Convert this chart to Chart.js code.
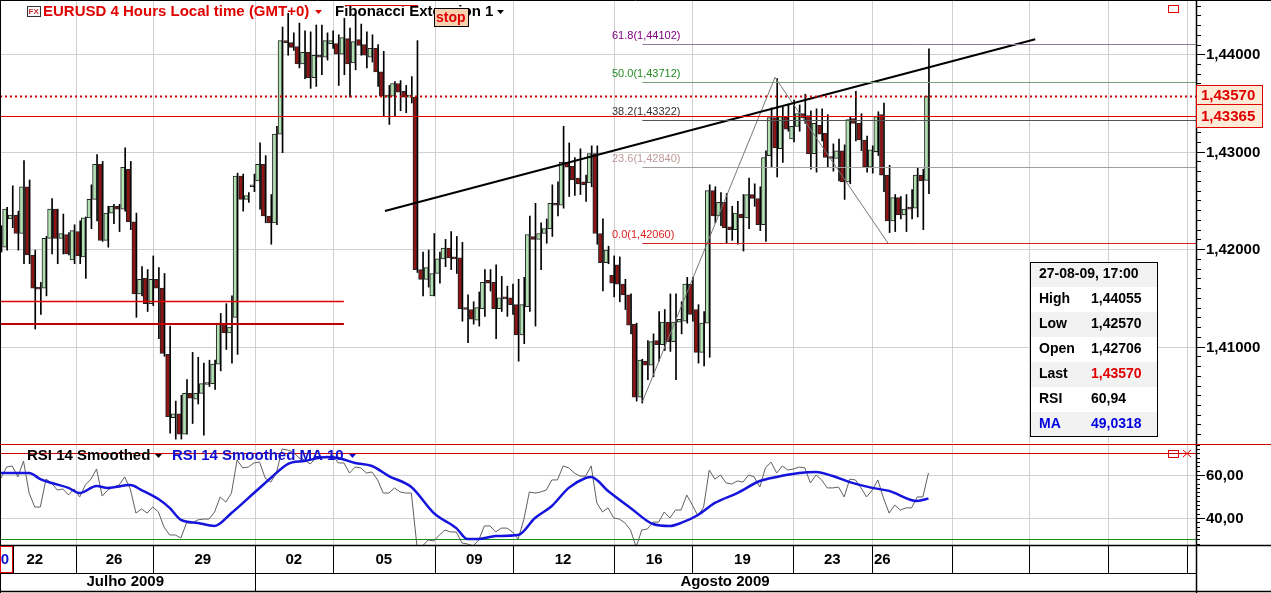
<!DOCTYPE html>
<html><head><meta charset="utf-8">
<script src="https://cdn.jsdelivr.net/npm/chart.js@4/dist/chart.umd.min.js"></script>
<style>
html,body{margin:0;padding:0;background:#fff;overflow:hidden}
#c1{position:absolute;left:0;top:0}
#c2{position:absolute;left:0;top:445px}
</style></head><body>
<canvas id="c1" width="1271" height="445"></canvas>
<canvas id="c2" width="1271" height="148"></canvas>
<script>
// ---------- DATA ----------
const opens=[1.4222,1.4202,1.4231,1.4235,1.4216,1.4264,1.4194,1.4161,1.4160,1.4211,1.4241,1.4211,1.4215,1.4189,1.4218,1.4192,1.4232,1.4251,1.4287,1.4209,1.4237,1.4244,1.4241,1.4282,1.4228,1.4154,1.4170,1.4144,1.4169,1.4160,1.4092,1.4027,1.4031,1.4010,1.4052,1.4046,1.4052,1.4061,1.4062,1.4082,1.4124,1.4114,1.4130,1.4275,1.4251,1.4264,1.4270,1.4287,1.4234,1.4227,1.4318,1.4414,1.4412,1.4408,1.4390,1.4402,1.4376,1.4399,1.4397,1.4411,1.4411,1.4400,1.4416,1.4391,1.4415,1.4410,1.4397,1.4406,1.4382,1.4356,1.4357,1.4370,1.4362,1.4356,1.4356,1.4179,1.4169,1.4152,1.4175,1.4190,1.4201,1.4192,1.4191,1.4140,1.4138,1.4127,1.4139,1.4168,1.4166,1.4139,1.4151,1.4150,1.4143,1.4112,1.4141,1.4213,1.4210,1.4216,1.4221,1.4247,1.4245,1.4289,1.4285,1.4273,1.4269,1.4268,1.4298,1.4216,1.4186,1.4173,1.4184,1.4164,1.4153,1.4123,1.4048,1.4085,1.4081,1.4106,1.4102,1.4125,1.4105,1.4125,1.4126,1.4164,1.4138,1.4094,1.4124,1.4260,1.4234,1.4248,1.4223,1.4220,1.4236,1.4232,1.4256,1.4252,1.4225,1.4296,1.4335,1.4303,1.4336,1.4313,1.4326,1.4339,1.4337,1.4298,1.4327,1.4319,1.4295,1.4293,1.4301,1.4269,1.4334,1.4329,1.4312,1.4284,1.4300,1.4338,1.4276,1.4229,1.4253,1.4235,1.4243,1.4242,1.4276,1.42706];
const highs=[1.4224,1.4243,1.4265,1.4239,1.4291,1.4271,1.4199,1.4166,1.4213,1.4252,1.4241,1.4236,1.4217,1.4225,1.4229,1.4233,1.4266,1.4297,1.4290,1.4244,1.4246,1.4246,1.4304,1.4290,1.4237,1.4182,1.4179,1.4193,1.4181,1.4175,1.4121,1.4044,1.4050,1.4066,1.4094,1.4089,1.4083,1.4086,1.4086,1.4134,1.4144,1.4152,1.4278,1.4277,1.4258,1.4277,1.4309,1.4296,1.4256,1.4326,1.4428,1.4442,1.4422,1.4432,1.4424,1.4423,1.4430,1.4430,1.4422,1.4424,1.4420,1.4437,1.4427,1.4443,1.4431,1.4423,1.4420,1.4410,1.4403,1.4368,1.4372,1.4373,1.4368,1.4377,1.4414,1.4197,1.4199,1.4216,1.4197,1.4210,1.4218,1.4213,1.4207,1.4153,1.4146,1.4156,1.4179,1.4179,1.4184,1.4172,1.4162,1.4164,1.4169,1.4171,1.4234,1.4247,1.4227,1.4231,1.4266,1.4269,1.4326,1.4309,1.4294,1.4303,1.4276,1.4306,1.4306,1.4231,1.4203,1.4193,1.4192,1.4169,1.4154,1.4124,1.4087,1.4106,1.4113,1.4136,1.4138,1.4154,1.4154,1.4146,1.4171,1.4171,1.4143,1.4136,1.4266,1.4264,1.4258,1.4257,1.4244,1.4249,1.4256,1.4273,1.4267,1.4264,1.4301,1.4345,1.4375,1.4346,1.4348,1.4353,1.4348,1.4359,1.4342,1.4344,1.4344,1.4338,1.4308,1.4313,1.4307,1.4336,1.4362,1.4339,1.4316,1.4306,1.4341,1.4350,1.4286,1.4256,1.4254,1.4256,1.4261,1.4284,1.4282,1.44055];
const lows=[1.4197,1.4199,1.4222,1.4199,1.4185,1.4185,1.4118,1.4133,1.4152,1.4195,1.4185,1.4195,1.4194,1.4185,1.4185,1.4170,1.4221,1.4229,1.4208,1.4202,1.4226,1.4218,1.4239,1.4220,1.4130,1.4152,1.4136,1.4142,1.4108,1.4090,1.4011,1.4005,1.4005,1.4010,1.4021,1.4041,1.4009,1.4059,1.4056,1.4075,1.4097,1.4083,1.4092,1.4239,1.4248,1.4259,1.4241,1.4227,1.4205,1.4225,1.4299,1.4399,1.4404,1.4386,1.4375,1.4365,1.4367,1.4379,1.4394,1.4406,1.4368,1.4379,1.4356,1.4384,1.4399,1.4386,1.4392,1.4367,1.4337,1.4328,1.4337,1.4342,1.4340,1.4350,1.4176,1.4152,1.4161,1.4152,1.4165,1.4182,1.4179,1.4175,1.4126,1.4104,1.4123,1.4121,1.4131,1.4157,1.4108,1.4136,1.4131,1.4133,1.4085,1.4103,1.4136,1.4121,1.4179,1.4206,1.4213,1.4234,1.4242,1.4254,1.4255,1.4256,1.4249,1.4264,1.4205,1.4157,1.4185,1.4151,1.4146,1.4138,1.4113,1.4044,1.4042,1.4066,1.4069,1.4085,1.4096,1.4095,1.4066,1.4113,1.4124,1.4126,1.4083,1.4080,1.4089,1.4227,1.4224,1.4206,1.4209,1.4205,1.4198,1.4221,1.4244,1.4219,1.4208,1.4284,1.4274,1.4289,1.4321,1.4310,1.4321,1.4329,1.4282,1.4279,1.4311,1.4284,1.4280,1.4270,1.4251,1.4267,1.4311,1.4301,1.4279,1.4278,1.4296,1.4259,1.4217,1.4218,1.4231,1.4218,1.4231,1.4233,1.4220,1.4257];
const closes=[1.4201,1.4241,1.4235,1.4216,1.4264,1.4194,1.4160,1.4159,1.4211,1.4241,1.4211,1.4216,1.4195,1.4219,1.4193,1.4232,1.4251,1.4287,1.4209,1.4237,1.4244,1.4241,1.4284,1.4228,1.4154,1.4169,1.4144,1.4169,1.4160,1.4093,1.4028,1.4031,1.4010,1.4052,1.4047,1.4052,1.4062,1.4063,1.4082,1.4124,1.4114,1.4120,1.4275,1.4251,1.4255,1.4266,1.4287,1.4234,1.4227,1.4318,1.4414,1.4412,1.4407,1.4390,1.4402,1.4376,1.4399,1.4397,1.4414,1.4414,1.4400,1.4417,1.4390,1.4413,1.4409,1.4399,1.4406,1.4382,1.4357,1.4358,1.4370,1.4361,1.4356,1.4357,1.4179,1.4169,1.4181,1.4175,1.4190,1.4201,1.4191,1.4190,1.4139,1.4138,1.4128,1.4140,1.4166,1.4165,1.4139,1.4150,1.4149,1.4143,1.4112,1.4143,1.4215,1.4210,1.4216,1.4221,1.4247,1.4245,1.4289,1.4284,1.4271,1.4267,1.4266,1.4298,1.4216,1.4186,1.4199,1.4165,1.4164,1.4153,1.4122,1.4048,1.4086,1.4081,1.4105,1.4102,1.4125,1.4105,1.4125,1.4128,1.4164,1.4133,1.4094,1.4124,1.4260,1.4234,1.4248,1.4222,1.4220,1.4237,1.4232,1.4256,1.4252,1.4225,1.4294,1.4335,1.4304,1.4336,1.4323,1.4326,1.4339,1.4335,1.4298,1.4329,1.4318,1.4294,1.4293,1.4301,1.4269,1.4333,1.4329,1.4312,1.4284,1.4302,1.4336,1.4276,1.4229,1.4253,1.4235,1.4241,1.4241,1.4276,1.4270,1.4357];
const rsi=[58.6,63.7,64.2,59.1,66.5,51.6,45.1,45.1,58.1,56.3,53.0,53.5,50.7,53.5,49.8,55.3,58.1,62.8,50.2,53.0,54.4,55.3,59.1,53.5,42.3,44.2,42.3,45.1,42.8,35.8,32.1,32.1,30.7,37.7,37.7,39.1,39.5,39.5,42.8,49.8,47.4,51.6,67.0,63.3,63.7,65.6,66.0,58.6,56.7,60.9,72.1,71.6,70.7,67.9,67.0,65.1,67.9,68.4,67.9,69.3,65.6,65.6,60.9,63.7,63.3,60.9,61.4,57.7,51.6,51.6,54.0,52.1,51.6,51.6,27.0,27.0,29.8,29.3,32.1,34.4,33.5,33.5,28.4,27.9,27.0,29.8,36.3,36.3,33.5,35.3,35.3,33.5,30.2,39.1,52.1,51.6,52.1,53.0,57.7,57.7,64.2,63.3,60.9,59.5,59.5,64.2,47.0,42.8,44.7,40.0,39.5,37.7,34.4,26.5,34.4,34.9,38.1,38.1,42.8,40.0,43.7,43.7,50.7,46.0,40.9,45.1,62.3,58.1,60.0,56.3,55.8,57.2,56.7,60.0,59.1,54.4,63.3,66.0,60.9,64.2,62.3,62.8,63.7,63.3,56.3,60.0,57.7,54.0,54.0,54.4,49.8,58.1,57.7,54.0,49.8,53.0,57.7,49.3,42.3,46.0,43.7,44.7,44.7,49.8,49.8,60.94];
const maIdx=[0,5,7,9,12,14,17,19,23,25,28,30,32,35,38,41,45,48,51,54,58,60,63,66,69,73,77,81,83,85,88,92,95,98,101,104,105,108,112,116,119,121,124,127,131,135,138,142,145,148,151,155,158,163,165];
const maVals=[60.9,60.9,58.1,56.3,54.0,51.6,54.9,54.0,55.3,53.0,48.8,44.7,39.1,37.7,36.3,42.3,51.6,58.6,65.1,66.5,68.4,67.9,65.6,64.2,59.5,54.4,42.3,35.3,30.2,30.2,31.6,32.1,40.0,45.6,54.0,58.6,59.1,52.6,44.7,37.2,36.3,37.7,41.4,47.0,51.6,57.2,59.1,60.9,61.4,59.5,56.7,54.0,52.6,47.9,49.03];
const priceTicks=[1.41,1.42,1.43,1.44];
const rsiTicks=[40,60];
const dayLabels=['0','22','26','29','02','05','09','12','16','19','23','26'];
const dayLabelIdx=[0.7,6.0,20.1,35.9,52.1,68.1,84.2,100.0,116.2,131.9,147.9,156.8];
const dividerIdx=[2.1,13.3,27.0,45.2,59.1,77.2,91.1,109.1,123.0,140.9,155.0,169.2,182.9,197.0,211.0];
const monthLabels=['Julho 2009','Agosto 2009'];
const monthCenterIdx=[22.1,128.8];
const monthDividerIdx=[45.2];
const fibLabels=['61.8(1,44102)','50.0(1,43712)','38.2(1,43322)','23.6(1,42840)','0.0(1,42060)'];
const fibLevels=[1.44102,1.43712,1.43322,1.42840,1.42060];
const fibStartIdx=114.1;
const trendIdx=[68.3,184.0], trendPrice=[1.42392,1.44155];
const zigIdx=[114.1,137.7,157.8], zigPrice=[1.40433,1.43763,1.42062];
const lastPrice=1.43570, stopPrice=1.43365;
const supportLevels=[1.41464,1.41227], supportEndIdx=61.0;
const infoRows=[['High','1,44055'],['Low','1,42570'],['Open','1,42706'],['Last','1,43570'],['RSI','60,94'],['MA','49,0318']];

// ---------- CHARTS ----------
const F='"Liberation Sans", Arial, sans-serif';
const XMIN=-0.18, XMAX=212.6;
const fmt5=v=>v.toFixed(5).replace('.',',');
function vline(ctx,x,y1,y2,c,w){ctx.strokeStyle=c;ctx.lineWidth=w||1;ctx.beginPath();ctx.moveTo(x,y1);ctx.lineTo(x,y2);ctx.stroke();}
function hline(ctx,y,x1,x2,c,w,d){ctx.strokeStyle=c;ctx.lineWidth=w||1;ctx.setLineDash(d||[]);ctx.beginPath();ctx.moveTo(x1,y);ctx.lineTo(x2,y);ctx.stroke();ctx.setLineDash([]);}
function caret(ctx,x,y,c){ctx.fillStyle=c;ctx.beginPath();ctx.moveTo(x,y-2);ctx.lineTo(x+7,y-2);ctx.lineTo(x+3.5,y+2);ctx.closePath();ctx.fill();}
const up=closes.map((c,i)=>c>=opens[i]);

const pricePlugin={id:'pp',
 beforeDatasetsDraw(ch){
  const {ctx,chartArea:a,scales:{x,y}}=ch;
  ctx.save();ctx.fillStyle='#fff';ctx.fillRect(0,0,1271,445);
  priceTicks.forEach(t=>hline(ctx,Math.round(y.getPixelForValue(t))+0.5,a.left,a.right,'#d0d0d0',1));
  dividerIdx.slice(1).forEach(t=>vline(ctx,Math.round(x.getPixelForValue(t))+0.5,a.top,a.bottom,'#d0d0d0',1));
  ctx.restore();
 },
 afterDatasetsDraw(ch){
  const {ctx,chartArea:a,scales:{x,y}}=ch;
  ctx.save();
  const fibLine=['#8e7a9a','#7aa07a','#555555','#a0a0a0','#d02020'];
  const fibTxt=['#800080','#228b22','#333333','#c09a9a','#e02020'];
  const xs=x.getPixelForValue(fibStartIdx);
  ctx.font='11px '+F;ctx.textBaseline='bottom';ctx.textAlign='left';
  fibLevels.forEach((l,i)=>{const py=Math.round(y.getPixelForValue(l))+0.5;hline(ctx,py,xs,a.right,fibLine[i],1);ctx.fillStyle=fibTxt[i];ctx.fillText(fibLabels[i],612,py-3);});
  hline(ctx,Math.round(y.getPixelForValue(stopPrice))+0.5,a.left,a.right,'#e00000',1.2);
  hline(ctx,Math.round(y.getPixelForValue(lastPrice))+0.5,a.left,a.right,'#d00000',2,[2,3]);
  const se=x.getPixelForValue(supportEndIdx);
  hline(ctx,Math.round(y.getPixelForValue(supportLevels[0]))+0.5,0,se,'#e00000',1.5);
  hline(ctx,Math.round(y.getPixelForValue(supportLevels[1])),0,se,'#c00000',2);
  // right axis
  ctx.fillStyle='#fff';ctx.fillRect(1197,0,74,445);
  vline(ctx,1196.5,0,445,'#000',1.5);
  for(let v=1.401;v<1.4455;v+=0.001){const py=Math.round(y.getPixelForValue(v))+0.5;hline(ctx,py,1196,1201,'#000',1);}
  ctx.font='bold 15px '+F;ctx.textBaseline='middle';ctx.fillStyle='#000';
  priceTicks.forEach(t=>{const py=Math.round(y.getPixelForValue(t))+0.5;hline(ctx,py,1196,1205,'#000',1);ctx.fillText(fmt5(t),1206,py);});
  [[lastPrice,85,104],[stopPrice,104,127]].forEach(([v,t0,t1])=>{ctx.fillStyle='#fcebd6';ctx.fillRect(1196,t0,67,t1-t0);ctx.strokeStyle='#e00000';ctx.lineWidth=1;ctx.strokeRect(1196.5,t0+0.5,66,t1-t0);ctx.fillStyle='#e00000';ctx.fillText(fmt5(v),1201,(t0+t1)/2+1);});
  // header
  ctx.strokeStyle='#333';ctx.lineWidth=1;ctx.strokeRect(27.5,6.5,13,10);ctx.font='bold 8px '+F;ctx.fillStyle='#c03030';ctx.fillText('FX',28.5,12);
  ctx.font='bold 15px '+F;ctx.fillStyle='#e00000';ctx.fillText('EURUSD 4 Hours Local time (GMT+0)',43,12);
  caret(ctx,315,12,'#e00000');ctx.fillStyle='#000';ctx.fillText('Fibonacci Extension 1',335,12);caret(ctx,497,12,'#000');
  hline(ctx,5.5,345,418,'#e00000',1);
  ctx.fillStyle='#f7d2b0';ctx.fillRect(434,8,35,19);ctx.strokeStyle='#000';ctx.strokeRect(434.5,8.5,34,18);
  ctx.font='bold 14px '+F;ctx.fillStyle='#e00000';ctx.fillText('stop',436,18);
  ctx.strokeStyle='#e00000';ctx.strokeRect(1168.5,5.5,10,7);
  // info box
  ctx.fillStyle='#fff';ctx.fillRect(1030,262,128,174);
  ctx.fillStyle='#f2f2f2';ctx.fillRect(1030,262,128,25);
  [1,3,5].forEach(r=>ctx.fillRect(1030,287+r*25,128,25));
  ctx.strokeStyle='#000';ctx.lineWidth=1;ctx.strokeRect(1030.5,262.5,127,174);
  ctx.font='bold 14px '+F;ctx.fillStyle='#000';ctx.fillText('27-08-09, 17:00',1039,274);
  infoRows.forEach((r,i)=>{const yy=299+i*25;ctx.fillStyle=i===5?'#0000e0':'#000';ctx.fillText(r[0],1039,yy);ctx.fillStyle=i===3?'#e00000':(i===5?'#0000e0':'#000');ctx.fillText(r[1],1091,yy);});
  hline(ctx,0.5,0,1271,'#000',1);vline(ctx,0.5,0,445,'#000',1);
  hline(ctx,444.5,0,1271,'#d00000',1);
  ctx.restore();
 }};

new Chart(document.getElementById('c1'),{
 type:'bar',
 data:{datasets:[
  {type:'line',data:trendIdx.map((v,i)=>({x:v,y:trendPrice[i]})),borderColor:'#000',borderWidth:2,pointRadius:0,order:0},
  {type:'line',data:zigIdx.map((v,i)=>({x:v,y:zigPrice[i]})),borderColor:'#777',borderWidth:1,pointRadius:0,order:1},
  {data:highs.map((h,i)=>({x:i,y:[lows[i],h]})),backgroundColor:'#000',barThickness:1,order:3},
  {data:opens.map((o,i)=>({x:i,y:[o,closes[i]]})),backgroundColor:up.map(u=>u?'#b2e2b2':'#8e1414'),borderColor:'#222',borderWidth:1,borderSkipped:false,barThickness:4,minBarLength:2,order:2}
 ]},
 options:{responsive:false,animation:false,devicePixelRatio:1,
  layout:{padding:{left:0,right:75,top:0,bottom:2}},
  plugins:{legend:{display:false},tooltip:{enabled:false}},
  scales:{x:{type:'linear',min:XMIN,max:XMAX,display:false,offset:false},
          y:{min:1.4001,max:1.44557,display:false}}},
 plugins:[pricePlugin]});

const rsiPlugin={id:'rp',
 beforeDatasetsDraw(ch){
  const {ctx,chartArea:a,scales:{x,y}}=ch;
  ctx.save();ctx.fillStyle='#fff';ctx.fillRect(0,0,1271,148);
  rsiTicks.forEach(t=>hline(ctx,Math.round(y.getPixelForValue(t))+0.5,a.left,a.right,'#d0d0d0',1));
  dividerIdx.slice(1).forEach(t=>vline(ctx,Math.round(x.getPixelForValue(t))+0.5,a.top,a.bottom,'#d0d0d0',1));
  hline(ctx,Math.round(y.getPixelForValue(70))+0.5,a.left,a.right,'#d00000',1);
  hline(ctx,Math.round(y.getPixelForValue(30))+0.5,a.left,a.right,'#1a8a1a',1);
  ctx.restore();
 },
 afterDatasetsDraw(ch){
  const {ctx,chartArea:a,scales:{x,y}}=ch;
  ctx.save();
  ctx.font='bold 15px '+F;ctx.textBaseline='middle';ctx.textAlign='left';
  ctx.fillStyle='#000';ctx.fillText('RSI 14 Smoothed',27,11);caret(ctx,155,11,'#000');
  ctx.fillStyle='#1010d0';ctx.fillText('RSI 14 Smoothed MA 10',172,11);caret(ctx,349,11,'#1010d0');
  ctx.strokeStyle='#e00000';ctx.lineWidth=1;ctx.strokeRect(1168.5,5.5,10,7);
  ctx.beginPath();ctx.moveTo(1183,5);ctx.lineTo(1191,12);ctx.moveTo(1191,5);ctx.lineTo(1183,12);ctx.stroke();
  // right axis
  ctx.fillStyle='#fff';ctx.fillRect(1197,0,74,148);
  vline(ctx,1196.5,0,148,'#000',1.5);
  for(let v=28;v<=74;v+=2){const py=Math.round(y.getPixelForValue(v))+0.5;hline(ctx,py,1196,1200,'#000',1);}
  ctx.font='bold 15px '+F;ctx.fillStyle='#000';
  rsiTicks.forEach(t=>{const py=Math.round(y.getPixelForValue(t))+0.5;hline(ctx,py,1196,1205,'#000',1);ctx.fillText(t.toFixed(2).replace('.',','),1206,py);});
  // date axis
  const b=a.bottom;
  hline(ctx,b+0.5,0,1271,'#000',1.5);hline(ctx,b+28.5,0,1196,'#000',1);hline(ctx,146.5,0,1271,'#000',1.5);
  vline(ctx,0.5,0,148,'#000',1);
  dividerIdx.forEach(t=>vline(ctx,Math.round(x.getPixelForValue(t))+0.5,b,b+28,'#000',1));
  monthDividerIdx.forEach(t=>vline(ctx,Math.round(x.getPixelForValue(t))+0.5,b+28,147,'#000',1));
  ctx.textAlign='center';
  dayLabels.forEach((l,i)=>{ctx.fillStyle=i===0?'#1010d0':'#000';ctx.fillText(l,x.getPixelForValue(dayLabelIdx[i]),b+15);});
  ctx.strokeStyle='#e00000';ctx.strokeRect(0.5,b+1.5,12,26);
  monthLabels.forEach((l,i)=>{ctx.fillStyle='#000';ctx.fillText(l,x.getPixelForValue(monthCenterIdx[i]),b+37);});
  ctx.restore();
 }};

new Chart(document.getElementById('c2'),{
 type:'line',
 data:{datasets:[
  {data:maIdx.map((v,i)=>({x:v,y:maVals[i]})),borderColor:'#1414dc',borderWidth:2.5,pointRadius:0,tension:0.4,cubicInterpolationMode:'monotone',order:0},
  {data:rsi.map((v,i)=>({x:i,y:v})),borderColor:'#606060',borderWidth:1,pointRadius:0,tension:0,order:1}
 ]},
 options:{responsive:false,animation:false,devicePixelRatio:1,
  layout:{padding:{left:0,right:75,top:0,bottom:48}},
  plugins:{legend:{display:false},tooltip:{enabled:false}},
  scales:{x:{type:'linear',min:XMIN,max:XMAX,display:false},
          y:{min:27.44,max:73.95,display:false}}},
 plugins:[rsiPlugin]});
</script></body></html>
